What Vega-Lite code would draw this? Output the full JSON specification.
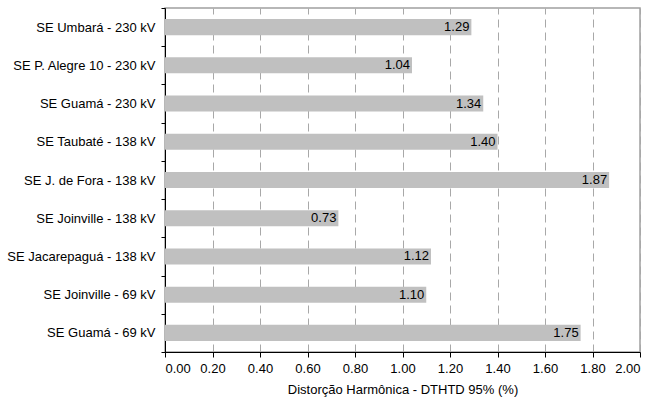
{
  "$schema": "https://vega.github.io/schema/vega-lite/v6.json",
  "width": 475,
  "height": 344,
  "autosize": "none",
  "padding": {"left": 165, "top": 8, "right": 13, "bottom": 48},
  "background": "white",
  "config": {
    "font": "Liberation Sans",
    "view": {"stroke": "#a0a0a0", "strokeWidth": 1.5}
  },
  "data": {
    "values": [
      {"station": "SE Umbará - 230 kV", "value": 1.29},
      {"station": "SE P. Alegre 10 - 230 kV", "value": 1.04},
      {"station": "SE Guamá - 230 kV", "value": 1.34},
      {"station": "SE Taubaté - 138 kV", "value": 1.40},
      {"station": "SE J. de Fora - 138 kV", "value": 1.87},
      {"station": "SE Joinville - 138 kV", "value": 0.73},
      {"station": "SE Jacarepaguá - 138 kV", "value": 1.12},
      {"station": "SE Joinville - 69 kV", "value": 1.10},
      {"station": "SE Guamá - 69 kV", "value": 1.75}
    ]
  },
  "encoding": {
    "y": {
      "field": "station",
      "type": "nominal",
      "sort": null,
      "scale": {"paddingInner": 0, "paddingOuter": 0},
      "axis": {
        "title": null,
        "tickBand": "extent",
        "domainColor": "black",
        "tickColor": "black",
        "tickSize": 4,
        "labelFontSize": 13,
        "labelColor": "black",
        "labelPadding": 6,
        "grid": false
      }
    },
    "x": {
      "field": "value",
      "type": "quantitative",
      "scale": {"domain": [0, 2], "nice": false},
      "axis": {
        "title": "Distorção Harmônica - DTHTD 95% (%)",
        "titleFontSize": 13,
        "titleFontWeight": "normal",
        "titleColor": "black",
        "titlePadding": 8,
        "values": [0, 0.2, 0.4, 0.6, 0.8, 1.0, 1.2, 1.4, 1.6, 1.8, 2.0],
        "format": ".2f",
        "labelFontSize": 13,
        "labelColor": "black",
        "labelPadding": 5,
        "domainColor": "black",
        "tickColor": "black",
        "tickSize": 5,
        "grid": true,
        "gridColor": "#a8a8a8",
        "gridDash": [8, 5],
        "gridWidth": 1
      }
    }
  },
  "layer": [
    {
      "mark": {"type": "bar", "color": "#c0c0c0", "height": {"band": 0.42}}
    },
    {
      "mark": {"type": "text", "align": "right", "baseline": "middle", "dx": -2, "fontSize": 13, "color": "black"},
      "encoding": {
        "text": {"field": "value", "type": "quantitative", "format": ".2f"}
      }
    }
  ]
}
